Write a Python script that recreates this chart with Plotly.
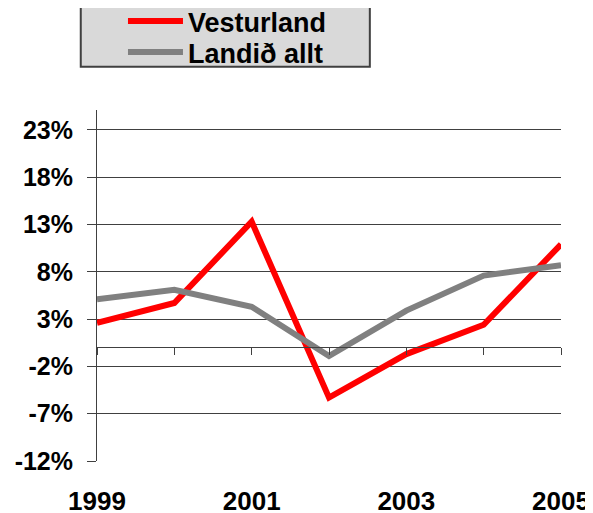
import plotly.graph_objects as go

# Data
years = [1999, 2000, 2001, 2002, 2003, 2004, 2005]
vesturland = [2.6, 4.7, 13.3, -5.3, -0.7, 2.4, 10.9]
landid_allt = [5.1, 6.1, 4.3, -0.9, 3.9, 7.6, 8.7]
y_ticks = [-12, -7, -2, 3, 8, 13, 18, 23]
x_labels = [1999, 2001, 2003, 2005]

FONT = "Liberation Sans, Arial, sans-serif"
GRID = "#404040"
y_range = [-12, 25.1]

# the page body adds an 8px offset, so margins are shifted by that amount
OFF = 8
M_L, M_R, M_T, M_B = 97 - OFF, 32 + OFF, 110 - OFF, 52 + OFF
PLOT_H = 513 - M_T - M_B


def paper_y(py):
    # pixel row (as seen in the screenshot) -> paper y
    return (513 - M_B + OFF - py) / PLOT_H


fig = go.Figure()
fig.add_trace(go.Scatter(x=years, y=vesturland, name="Vesturland", mode="lines",
                         line=dict(color="#ff0000", width=6), cliponaxis=False,
                         xaxis="x", yaxis="y", legend="legend"))
fig.add_trace(go.Scatter(x=years, y=landid_allt, name="Landið allt", mode="lines",
                         line=dict(color="#808080", width=6), cliponaxis=False,
                         xaxis="x2", yaxis="y", legend="legend2"))

# legend box (grey background, cut at top)
fig.add_shape(type="rect", xref="paper", yref="paper",
              x0=-0.035, x1=0.588, y0=paper_y(66.7), y1=paper_y(-10),
              fillcolor="#d9d9d9", line=dict(color="#404040", width=2), layer="below")

# position of the zero line as axis fraction
zero_pos = (0 - y_range[0]) / (y_range[1] - y_range[0])

legend_style = dict(x=0.056, xanchor="left", yanchor="top",
                    bgcolor="rgba(0,0,0,0)", borderwidth=0,
                    font=dict(family=FONT, size=27, color="black", weight="bold"),
                    itemwidth=55)

fig.update_layout(
    width=593, height=513,
    margin=dict(l=M_L, r=M_R, t=M_T, b=M_B, autoexpand=False),
    paper_bgcolor="white", plot_bgcolor="white",
    font=dict(family=FONT, size=26, color="black"),
    showlegend=True,
    legend=dict(y=paper_y(-3), **legend_style),
    legend2=dict(y=paper_y(28), **legend_style),
    xaxis=dict(range=[1999, 2005], tickvals=x_labels, ticktext=[str(v) for v in x_labels],
               showline=False, showgrid=False, zeroline=False, ticks="",
               tickfont=dict(family=FONT, size=26, weight="bold"),
               ticklabelstandoff=22, automargin=False),
    xaxis2=dict(range=[1999, 2005], overlaying="x", anchor="free", position=zero_pos,
                side="bottom", tickvals=years, showticklabels=False,
                showline=True, linecolor=GRID, linewidth=1,
                ticks="outside", ticklen=7, tickcolor=GRID, tickwidth=1,
                showgrid=False, zeroline=False, automargin=False),
    yaxis=dict(range=y_range, tickvals=y_ticks, ticktext=[f"{v}%" for v in y_ticks],
               showgrid=True, gridcolor=GRID, gridwidth=1, zeroline=False,
               showline=True, linecolor=GRID, linewidth=1,
               ticks="outside", ticklen=9, tickcolor=GRID,
               tickfont=dict(family=FONT, size=25, weight="bold"),
               ticklabelstandoff=9, automargin=False),
)

fig.write_html("out.html")
